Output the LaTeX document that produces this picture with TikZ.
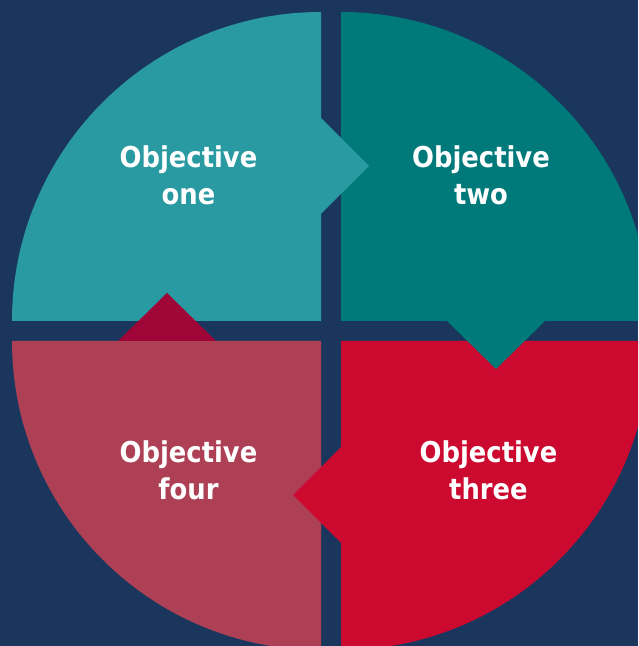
\documentclass[tikz,border=0pt]{standalone}
\usepackage{fontspec}
\usepackage{tikz}
\usepackage{xcolor}
\usetikzlibrary{positioning}
\setsansfont{DejaVu Sans Condensed}
\definecolor{OBNavy}{HTML}{1B365D}
\definecolor{OBTeal}{HTML}{2A9AA2}
\definecolor{OBDeepTeal}{HTML}{00797B}
\definecolor{OBRed}{HTML}{CC0A30}
\definecolor{OBRose}{HTML}{AE4056}
\definecolor{OBCrimson}{HTML}{A00538}
\newcommand{\OBRadius}{309}

\begin{document}
\begin{tikzpicture}[
    x=1pt,y=1pt,font=\sffamily\bfseries\fontsize{28.7}{37}\selectfont,
    quad/.style={draw=none},
    pointer/.style={draw=none},
    caption/.style={text=white,align=center,inner sep=0pt}
  ]
    \fill[OBNavy] (0,0) rectangle (638,646);
    \useasboundingbox (0,0) rectangle (638,646);
    \clip (0,0) rectangle (638,646);

    % quarter disks
    \fill[quad,OBTeal] (321,325) -- (12,325) arc[start angle=180,end angle=90,radius=\OBRadius] -- cycle;
    \fill[quad,OBDeepTeal] (341,325) -- (650,325) arc[start angle=0,end angle=90,radius=\OBRadius] -- cycle;
    \fill[quad,OBRed] (341,305) -- (341,-4) arc[start angle=270,end angle=360,radius=\OBRadius] -- cycle;
    \fill[quad,OBRose] (321,305) -- (12,305) arc[start angle=180,end angle=270,radius=\OBRadius] -- cycle;

    % pointers across the gaps
    \fill[pointer,OBTeal] (321,528) -- (369,480) -- (321,432) -- cycle;
    \fill[pointer,OBDeepTeal] (447,325) -- (496,277) -- (545,325) -- cycle;
    \fill[pointer,OBRed] (341,199) -- (293,151) -- (341,103) -- cycle;
    \fill[pointer,OBCrimson] (118,305) -- (167,353) -- (216,305) -- cycle;

    \node[caption] (one) at (188.5,471) {Objective\\one};
    \node[caption] (two) at (481,471) {Objective\\two};
    \node[caption] (three) at (488.5,176) {Objective\\three};
    \node[caption] (four) at (188.5,176) {Objective\\four};
  \end{tikzpicture}
\end{document}
